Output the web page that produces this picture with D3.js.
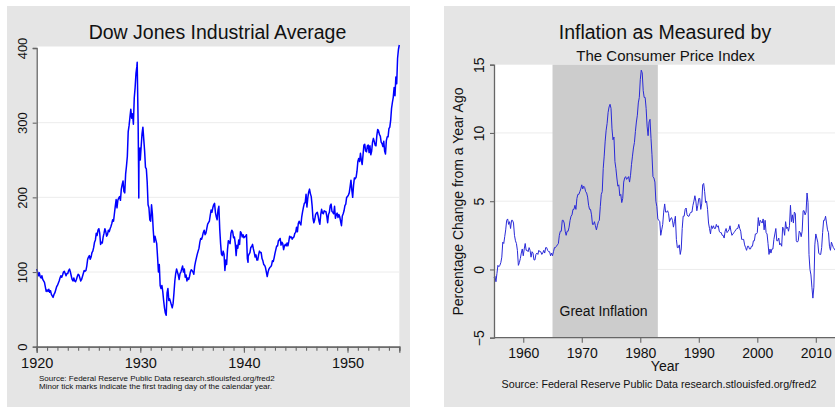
<!DOCTYPE html>
<html>
<head>
<meta charset="utf-8">
<title>Dow Jones and Inflation</title>
<script src="https://d3js.org/d3.v7.min.js"></script>
<style>
  body { margin: 0; background: #fff; }
  svg { display: block; font-family: Arial, "Liberation Sans", sans-serif; }
</style>
</head>
<body>
<svg id="chart" width="835" height="407"></svg>
<script>
// ---- Dow Jones Industrial Average, monthly, Jan 1920 .. Jan 1955
const dowStartYear = 1920;
const dowMonthly = [
  104, 100, 95, 99, 94, 92, 95, 90, 88, 86, 80, 74,          // 1920
  76, 74, 77, 73, 75, 70, 68, 66, 70, 72, 76, 80,            // 1921
  82, 85, 88, 92, 95, 93, 96, 100, 101, 98, 95, 98,          // 1922
  98, 102, 104, 100, 95, 90, 88, 92, 88, 87, 90, 94,         // 1923
  97, 96, 92, 88, 90, 94, 98, 102, 101, 102, 108, 117,       // 1924
  120, 122, 117, 120, 126, 128, 133, 140, 143, 152, 149, 156, // 1925
  158, 152, 137, 140, 139, 147, 152, 158, 154, 148, 150, 156, // 1926
  154, 158, 161, 165, 170, 168, 178, 188, 197, 186, 196, 199, // 1927
  201, 196, 211, 217, 222, 208, 206, 231, 242, 255, 288, 296, // 1928
  307, 318, 306, 312, 298, 333, 347, 366, 375, 335, 240, 255, // 1929
  250, 268, 285, 294, 278, 262, 240, 238, 220, 190, 186, 170, // 1930
  168, 190, 178, 156, 140, 148, 143, 138, 120, 100, 110, 82,  // 1931
  78, 82, 74, 62, 52, 45, 42, 72, 78, 62, 64, 60,             // 1932
  56, 52, 58, 72, 88, 98, 104, 100, 96, 90, 98, 100,          // 1933
  104, 108, 100, 104, 93, 96, 88, 92, 90, 94, 100, 103,       // 1934
  102, 100, 97, 108, 114, 119, 124, 128, 132, 140, 145, 144,  // 1935
  148, 153, 156, 150, 152, 158, 164, 166, 168, 176, 183, 180, // 1936
  186, 190, 192, 180, 174, 170, 183, 188, 158, 138, 124, 122, // 1937
  128, 124, 102, 116, 110, 130, 142, 140, 138, 152, 156, 154, // 1938
  146, 147, 138, 122, 136, 132, 143, 137, 154, 152, 147, 150, // 1939
  146, 147, 148, 150, 118, 121, 124, 126, 133, 134, 137, 131, // 1940
  126, 120, 123, 116, 116, 123, 128, 126, 126, 118, 115, 110, // 1941
  109, 106, 100, 94, 100, 104, 106, 107, 109, 115, 114, 119,  // 1942
  125, 130, 135, 135, 142, 143, 145, 136, 140, 138, 130, 135, // 1943
  137, 135, 139, 135, 141, 148, 146, 147, 144, 146, 147, 152, // 1944
  153, 160, 154, 165, 168, 165, 163, 174, 181, 187, 192, 193, // 1945
  204, 187, 199, 207, 211, 205, 201, 189, 172, 166, 170, 177, // 1946
  179, 180, 175, 168, 164, 177, 184, 179, 178, 182, 181, 181, // 1947
  175, 166, 177, 180, 189, 191, 181, 180, 178, 188, 172, 177, // 1948
  179, 173, 177, 174, 168, 162, 175, 178, 182, 189, 191, 200, // 1949
  201, 203, 206, 214, 223, 210, 200, 216, 226, 225, 227, 235, // 1950
  248, 252, 248, 259, 250, 244, 257, 270, 271, 262, 261, 269, // 1951
  270, 260, 269, 257, 262, 274, 279, 275, 270, 269, 283, 291, // 1952
  289, 284, 282, 274, 272, 268, 275, 262, 258, 276, 281, 281, // 1953
  292, 294, 303, 319, 327, 334, 347, 336, 361, 352, 386, 398, // 1954
  404                                                          // 1955
];
// sharp intra-month moves (1929 crash, May 1940)
const dowExtra = [
  [1929.70, 381], [1929.79, 300], [1929.855, 199], [1929.87, 248],
  [1929.96, 266], [1940.40, 113]
];
const dowYTicks = [0, 100, 200, 300, 400];
const dowXTicks = [1920, 1930, 1940, 1950];

// ---- CPI inflation, % change from a year ago, every two months from 1955
const cpiStartYear = 1955;
const cpiBimonthly = [
  -0.6, -0.5, -0.9, -0.3, 0.3, 0.2,   // 1955
  0.3, 0.5, 0.9, 2.0, 1.9, 2.4,       // 1956
  2.9, 3.6, 3.7, 3.3, 3.5, 3.0,       // 1957
  3.6, 3.6, 3.4, 2.5, 2.1, 1.9,       // 1958
  1.4, 0.3, 0.5, 0.8, 1.2, 1.5,       // 1959
  1.0, 1.5, 1.9, 1.4, 1.4, 1.3,       // 1960
  1.6, 1.4, 0.9, 1.3, 1.2, 0.7,       // 1961
  0.7, 1.1, 1.2, 1.1, 1.4, 1.3,       // 1962
  1.3, 1.1, 1.2, 1.4, 1.2, 1.6,       // 1963
  1.6, 1.4, 1.3, 1.3, 1.0, 1.2,       // 1964
  1.0, 1.3, 1.6, 1.6, 1.7, 1.8,       // 1965
  1.9, 2.5, 2.8, 2.8, 3.6, 3.6,       // 1966
  3.4, 2.8, 2.5, 2.8, 2.8, 3.1,       // 1967
  3.6, 3.9, 4.0, 4.4, 4.4, 4.7,       // 1968
  4.4, 5.2, 5.5, 5.5, 5.7, 5.9,       // 1969
  6.2, 5.9, 6.1, 6.0, 5.7, 5.6,       // 1970
  5.3, 4.7, 4.4, 4.4, 4.0, 3.3,       // 1971
  3.3, 3.5, 3.2, 2.9, 3.2, 3.5,       // 1972
  3.6, 4.6, 5.5, 5.7, 7.4, 8.3,       // 1973
  9.4, 10.2, 10.7, 11.5, 11.9, 12.1,  // 1974
  11.8, 10.3, 9.5, 9.7, 7.9, 7.4,     // 1975
  6.7, 6.1, 6.2, 5.4, 5.5, 4.9,       // 1976
  5.2, 6.4, 6.7, 6.8, 6.6, 6.7,       // 1977
  6.8, 6.4, 6.9, 7.7, 8.3, 8.9,       // 1978
  9.3, 10.1, 10.8, 11.3, 12.2, 12.6,  // 1979
  13.9, 14.6, 14.4, 13.1, 12.6, 12.6, // 1980
  11.8, 10.5, 9.8, 10.8, 11.0, 9.6,   // 1981
  8.4, 6.8, 6.7, 6.4, 5.0, 4.6,       // 1982
  3.7, 3.6, 3.5, 2.5, 2.9, 3.3,       // 1983
  4.2, 4.8, 4.2, 4.2, 4.3, 4.1,       // 1984
  3.5, 3.7, 3.8, 3.6, 3.1, 3.5,       // 1985
  3.9, 2.2, 1.6, 1.6, 1.8, 1.1,       // 1986
  1.5, 3.0, 3.9, 3.9, 4.4, 4.5,       // 1987
  4.0, 3.9, 3.9, 4.1, 4.2, 4.2,       // 1988
  4.7, 5.0, 5.4, 5.0, 4.3, 4.7,       // 1989
  5.2, 5.2, 4.4, 4.8, 6.2, 6.3,       // 1990
  5.7, 4.9, 5.0, 4.4, 3.4, 3.0,       // 1991
  2.6, 3.2, 3.0, 3.2, 3.0, 3.0,       // 1992
  3.3, 3.1, 3.2, 2.8, 2.7, 2.7,       // 1993
  2.5, 2.5, 2.3, 2.8, 3.0, 2.7,       // 1994
  2.8, 2.9, 3.2, 2.8, 2.5, 2.6,       // 1995
  2.7, 2.8, 2.9, 3.0, 3.0, 3.3,       // 1996
  3.0, 2.8, 2.2, 2.2, 2.2, 1.8,       // 1997
  1.6, 1.4, 1.7, 1.7, 1.5, 1.5,       // 1998
  1.7, 1.7, 2.1, 2.1, 2.6, 2.6,       // 1999
  2.7, 3.8, 3.2, 3.6, 3.5, 3.4,       // 2000
  3.7, 2.9, 3.6, 2.7, 2.6, 1.9,       // 2001
  1.1, 1.5, 1.2, 1.5, 1.5, 2.2,       // 2002
  2.6, 3.0, 2.1, 2.1, 2.3, 1.8,       // 2003
  1.9, 1.7, 3.1, 3.0, 2.5, 3.5,       // 2004
  3.0, 3.1, 2.8, 3.2, 4.7, 3.5,       // 2005
  4.0, 3.4, 4.2, 4.1, 2.1, 2.0,       // 2006
  2.1, 2.8, 2.7, 2.4, 2.8, 4.3,       // 2007
  4.3, 4.0, 4.2, 5.6, 4.9, 1.1,       // 2008
  0.0, -0.4, -1.3, -2.1, -1.3, 1.8,   // 2009
  2.6, 2.3, 2.0, 1.2, 1.1, 1.1,       // 2010
  1.6, 2.7, 3.6, 3.6, 3.9, 3.4,       // 2011
  2.9, 2.7, 1.7, 1.4, 2.0, 1.8,       // 2012
  1.6, 1.5, 1.4, 2.0, 1.2, 1.2        // 2013
];
const cpiYTicks = [-5, 0, 5, 10, 15];
const cpiXTicks = [1960, 1970, 1980, 1990, 2000, 2010];
const greatInflation = [1965, 1983];

const svg = d3.select("#chart");
const panelFill = "#e5e5e5";
const axisColor = "#666";
const gridColor = "#ececec";
const textColor = "#111";

// gray panels
svg.append("rect").attr("x", 7).attr("y", 6).attr("width", 403).attr("height", 401).attr("fill", panelFill);
svg.append("rect").attr("x", 444).attr("y", 6).attr("width", 400).attr("height", 401).attr("fill", panelFill);

function styleAxis(g) {
  g.select(".domain").attr("stroke", axisColor).attr("stroke-width", 1.3);
  g.selectAll(".tick line").attr("stroke", axisColor).attr("stroke-width", 1.1);
  g.selectAll(".tick text").attr("fill", textColor);
}

// ================= left: Dow Jones =================
(function () {
  const x = d3.scaleLinear().domain([1920, 1955]).range([36.7, 399.3]);
  const y = d3.scaleLinear().domain([0, 400]).range([346.7, 48]);

  svg.append("rect").attr("x", 36.7).attr("y", 46.5).attr("width", 362.6).attr("height", 300.2).attr("fill", "#fff");

  svg.append("g").selectAll("line").data(dowYTicks.slice(1, -1)).join("line")
    .attr("x1", 37).attr("x2", 399).attr("y1", d => y(d)).attr("y2", d => y(d))
    .attr("stroke", gridColor).attr("stroke-width", 1);

  let pts = dowMonthly.map((v, i) => [dowStartYear + i / 12, v]).concat(dowExtra);
  pts.sort((a, b) => a[0] - b[0]);

  const line = d3.line().x(d => x(d[0])).y(d => y(d[1]));
  svg.append("path").datum(pts).attr("d", line)
    .attr("fill", "none").attr("stroke", "#0000ff").attr("stroke-width", 1.5)
    .attr("stroke-linejoin", "round");

  // minor year ticks
  svg.append("g").attr("transform", "translate(0,346.7)")
    .call(d3.axisBottom(x).tickValues(d3.range(1920, 1956)).tickSize(4).tickFormat(""))
    .call(styleAxis);
  const xa = svg.append("g").attr("transform", "translate(0,346.7)")
    .call(d3.axisBottom(x).tickValues(dowXTicks).tickSize(6).tickFormat(d3.format("d")))
    .call(styleAxis);
  xa.selectAll(".tick text").attr("y", 21.5).attr("dy", 0)
    .attr("font-size", 14.5).attr("font-family", "Arial, 'Liberation Sans', sans-serif");

  const ya = svg.append("g").attr("transform", "translate(36.7,0)")
    .call(d3.axisLeft(y).tickValues(dowYTicks).tickSize(4))
    .call(styleAxis);
  ya.selectAll(".tick text").attr("x", 0).attr("dy", 0).attr("text-anchor", "middle")
    .attr("transform", "translate(-9.5,0) rotate(-90)")
    .attr("font-size", 13).attr("font-family", "Arial, 'Liberation Sans', sans-serif");

  svg.append("text").attr("x", 217.5).attr("y", 39).attr("text-anchor", "middle")
    .attr("font-size", 19.5).attr("fill", textColor).text("Dow Jones Industrial Average");

  svg.append("text").attr("x", 39).attr("y", 380.5).attr("font-size", 8).attr("fill", textColor)
    .text("Source: Federal Reserve Public Data research.stlouisfed.org/fred2");
  svg.append("text").attr("x", 39).attr("y", 389).attr("font-size", 8).attr("fill", textColor)
    .text("Minor tick marks indicate the first trading day of the calendar year.");
})();

// ================= right: CPI inflation =================
(function () {
  const x = d3.scaleLinear().domain([1955, 2013.45]).range([494, 836]);
  const y = d3.scaleLinear().domain([-5, 15]).range([337.7, 64.7]);

  svg.append("rect").attr("x", 494).attr("y", 64.7).attr("width", 350).attr("height", 273).attr("fill", "#fff");

  svg.append("g").selectAll("line").data(cpiYTicks.slice(1, -1)).join("line")
    .attr("x1", 494).attr("x2", 845).attr("y1", d => y(d)).attr("y2", d => y(d))
    .attr("stroke", gridColor).attr("stroke-width", 1);

  svg.append("rect")
    .attr("x", x(greatInflation[0])).attr("y", y(15))
    .attr("width", x(greatInflation[1]) - x(greatInflation[0]))
    .attr("height", y(-5) - y(15))
    .attr("fill", "#cccccc");

  svg.append("text").attr("x", 603.5).attr("y", 316).attr("text-anchor", "middle")
    .attr("font-size", 14).attr("fill", textColor).text("Great Inflation");

  const pts = cpiBimonthly.map((v, i) => [cpiStartYear + i / 6, v]);
  const line = d3.line().x(d => x(d[0])).y(d => y(d[1]));
  svg.append("path").datum(pts).attr("d", line)
    .attr("fill", "none").attr("stroke", "#2a2ad8").attr("stroke-width", 1)
    .attr("stroke-linejoin", "round");

  const xa = svg.append("g").attr("transform", "translate(0,337.7)")
    .call(d3.axisBottom(x).tickValues(cpiXTicks).tickSize(5).tickFormat(d3.format("d")))
    .call(styleAxis);
  xa.select(".domain").attr("d", "M494,0H845");
  xa.selectAll(".tick text").attr("y", 20.6).attr("dy", 0)
    .attr("font-size", 14).attr("font-family", "Arial, 'Liberation Sans', sans-serif");

  const ya = svg.append("g").attr("transform", "translate(494,0)")
    .call(d3.axisLeft(y).tickValues(cpiYTicks).tickSize(4))
    .call(styleAxis);
  ya.selectAll(".tick text").attr("x", 0).attr("dy", 0).attr("text-anchor", "middle")
    .attr("transform", "translate(-10.5,0) rotate(-90)")
    .attr("font-size", 14).attr("font-family", "Arial, 'Liberation Sans', sans-serif");

  svg.append("text").attr("transform", "translate(463,201.5) rotate(-90)").attr("text-anchor", "middle")
    .attr("font-size", 14).attr("fill", textColor).text("Percentage Change from a Year Ago");

  svg.append("text").attr("x", 665).attr("y", 39).attr("text-anchor", "middle")
    .attr("font-size", 19.5).attr("fill", textColor).text("Inflation as Measured by");
  svg.append("text").attr("x", 665.5).attr("y", 60.5).attr("text-anchor", "middle")
    .attr("font-size", 15).attr("fill", textColor).text("The Consumer Price Index");

  svg.append("text").attr("x", 665).attr("y", 371).attr("text-anchor", "middle")
    .attr("font-size", 14).attr("fill", textColor).text("Year");
  svg.append("text").attr("x", 659).attr("y", 388).attr("text-anchor", "middle")
    .attr("font-size", 10.7).attr("fill", textColor)
    .text("Source: Federal Reserve Public Data research.stlouisfed.org/fred2");
})();
</script>
</body>
</html>
